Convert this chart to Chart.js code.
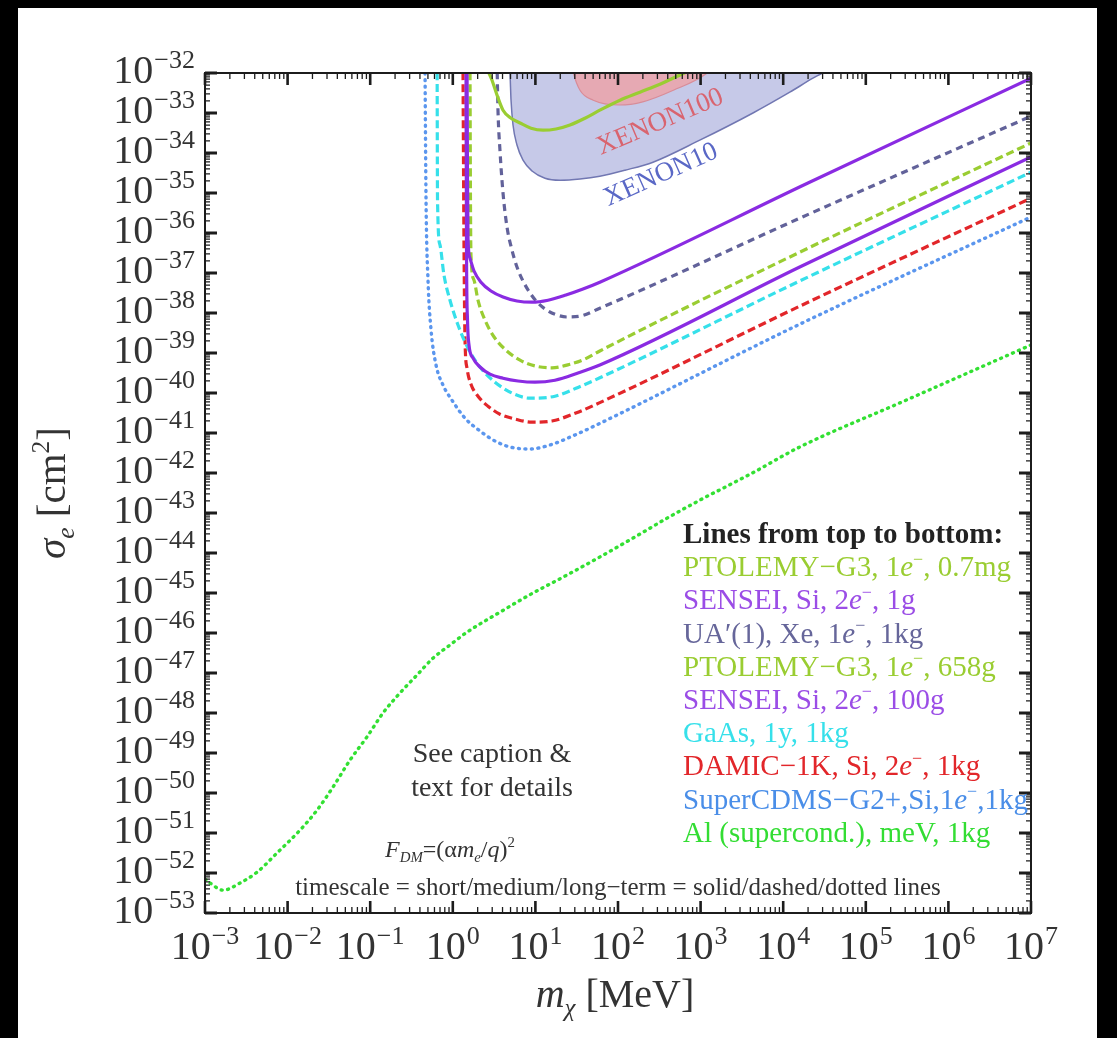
<!DOCTYPE html>
<html>
<head>
<meta charset="utf-8">
<script src="https://cdn.jsdelivr.net/npm/chart.js@4.4.1/dist/chart.umd.min.js"></script>
<style>
  html, body { margin: 0; padding: 0; background: #000; width: 1117px; height: 1038px; overflow: hidden; }
  #wrap { position: absolute; left: 18px; top: 8px; width: 1079px; height: 1030px; background: #fff; }
</style>
</head>
<body>
<div id="wrap"><canvas id="c"></canvas></div>
<script>
// axis decades (log10 of the values)
const massExps  = [-3, -2, -1, 0, 1, 2, 3, 4, 5, 6, 7];
const sigmaExps = [-32, -33, -34, -35, -36, -37, -38, -39, -40, -41, -42,
                   -43, -44, -45, -46, -47, -48, -49, -50, -51, -52, -53];

// curves as log10(m/MeV) and log10(sigma/cm^2)
const ptolemy07M   = [0.39, 0.402, 0.475, 0.535, 0.608, 0.705, 0.814, 0.947, 1.092, 1.25, 1.419, 1.6, 1.78, 2.024, 2.266, 2.508, 2.75, 2.87];
const ptolemy07S   = [-31.68, -31.8, -32.18, -32.55, -32.93, -33.13, -33.25, -33.38, -33.43, -33.4, -33.3, -33.13, -32.93, -32.68, -32.48, -32.28, -32.05, -31.93];

const sensei1gM    = [0.172, 0.178, 0.184, 0.208, 0.257, 0.341, 0.462, 0.608, 0.777, 0.959, 1.153, 1.37, 1.576, 1.78, 4.3, 7.0];
const sensei1gS    = [-31.68, -34.68, -36.13, -36.63, -36.95, -37.23, -37.45, -37.6, -37.7, -37.73, -37.68, -37.55, -37.4, -37.23, -34.75, -32.13];

const uaXeM        = [0.535, 0.547, 0.571, 0.608, 0.656, 0.717, 0.777, 0.85, 0.935, 1.031, 1.14, 1.262, 1.383, 1.54, 1.78, 4.2, 7.0];
const uaXeS        = [-31.68, -32.93, -33.93, -35.0, -35.85, -36.43, -36.85, -37.2, -37.5, -37.75, -37.93, -38.05, -38.1, -38.08, -37.88, -35.63, -33.08];

const ptolemy658M  = [0.208, 0.214, 0.22, 0.257, 0.305, 0.39, 0.5, 0.644, 0.814, 1.007, 1.2, 1.42, 1.6, 1.78, 4.2, 7.0];
const ptolemy658S  = [-31.68, -35.18, -36.55, -37.18, -37.68, -38.18, -38.6, -38.93, -39.18, -39.33, -39.37, -39.28, -39.15, -38.95, -36.48, -33.75];

const sensei100gM  = [0.16, 0.166, 0.178, 0.196, 0.245, 0.329, 0.45, 0.608, 0.79, 0.995, 1.237, 1.516, 1.78, 4.2, 7.0];
const sensei100gS  = [-31.68, -36.43, -38.18, -38.8, -39.13, -39.35, -39.53, -39.63, -39.7, -39.73, -39.68, -39.5, -39.3, -36.85, -34.1];

const gaasM        = [-0.19, -0.185, -0.155, -0.107, -0.034, 0.063, 0.184, 0.329, 0.511, 0.717, 0.935, 1.237, 1.516, 1.78, 4.2, 7.0];
const gaasS        = [-31.68, -35.18, -36.3, -37.05, -37.68, -38.3, -38.88, -39.35, -39.73, -40.0, -40.13, -40.08, -39.86, -39.62, -37.2, -34.48];

const damicM       = [0.123, 0.136, 0.148, 0.172, 0.22, 0.305, 0.426, 0.571, 0.753, 0.959, 1.2, 1.49, 1.78, 4.2, 7.0];
const damicS       = [-31.68, -36.43, -38.68, -39.38, -39.78, -40.08, -40.33, -40.53, -40.65, -40.73, -40.7, -40.5, -40.24, -37.83, -35.13];

const supercdmsM   = [-0.337, -0.324, -0.3, -0.263, -0.203, -0.119, -0.01, 0.148, 0.329, 0.511, 0.692, 0.935, 1.177, 1.479, 1.78, 4.2, 7.0];
const supercdmsS   = [-31.68, -35.18, -37.18, -38.43, -39.3, -39.8, -40.18, -40.63, -40.95, -41.2, -41.35, -41.4, -41.3, -41.05, -40.76, -38.28, -35.6];

const alM          = [-3.06, -2.94, -2.78, -2.576, -2.37, -2.128, -1.85, -1.644, -1.45, -1.245, -1.04, -0.845, -0.64, -0.433, -0.24, -0.034,
                      0.172, 0.571, 0.971, 1.383, 1.78, 2.18, 2.593, 2.99, 3.6, 4.2, 5.41, 7.0];
const alS          = [-52.05, -52.25, -52.43, -52.25, -51.98, -51.5, -50.93, -50.43, -49.85, -49.18, -48.6, -48.0, -47.5, -47.05, -46.63, -46.3,
                      -45.98, -45.48, -45.0, -44.55, -44.1, -43.63, -43.13, -42.68, -42.03, -41.35, -40.25, -38.8];

// excluded regions (filled up to the top of the plot)
const xenon10M     = [0.668, 0.692, 0.705, 0.729, 0.777, 0.85, 0.959, 1.116, 1.298, 1.54, 1.78, 2.085, 2.424, 2.99, 3.634, 4.08, 4.36, 4.54];
const xenon10S     = [-31.68, -32.0, -32.68, -33.3, -33.8, -34.18, -34.45, -34.63, -34.68, -34.65, -34.58, -34.43, -34.23, -33.68, -33.0, -32.48, -32.13, -31.93];
const xenon100M    = [1.44, 1.46, 1.54, 1.7, 2.02, 2.3, 2.67, 3.08, 3.15];
const xenon100S    = [-31.8, -32.0, -32.43, -32.68, -32.8, -32.72, -32.43, -32.0, -31.85];

const seriesLabels = [
  'PTOLEMY−G3, 1e⁻, 0.7mg',
  'SENSEI, Si, 2e⁻, 1g',
  'UA′(1), Xe, 1e⁻, 1kg',
  'PTOLEMY−G3, 1e⁻, 658g',
  'SENSEI, Si, 2e⁻, 100g',
  'GaAs, 1y, 1kg',
  'DAMIC−1K, Si, 2e⁻, 1kg',
  'SuperCDMS−G2+,Si,1e⁻,1kg',
  'Al (supercond.), meV, 1kg',
];

const SERIF = '"Liberation Serif", "Times New Roman", serif';
const SOLID = [], DASHED = [8, 4], DOTTED = [1, 5.5];

const pts = (lm, ls) => lm.map((v, i) => ({ x: 10 ** v, y: 10 ** ls[i] }));

function curve(label, lm, ls, color, dash, textColor) {
  return {
    label, data: pts(lm, ls),
    borderColor: color, borderWidth: dash === DOTTED ? 3.4 : 3.2,
    borderDash: dash, borderCapStyle: dash === DOTTED ? 'round' : 'butt',
    pointRadius: 0, cubicInterpolationMode: 'monotone', fill: false, clip: 0,
    textColor: textColor || color,
  };
}

const datasets = [
  curve(seriesLabels[0], ptolemy07M,  ptolemy07S,  '#9acd32', SOLID),
  curve(seriesLabels[1], sensei1gM,   sensei1gS,   '#8a2be2', SOLID, '#9b4de6'),
  curve(seriesLabels[2], uaXeM,       uaXeS,       '#62629a', [7, 5], '#66669a'),
  curve(seriesLabels[3], ptolemy658M, ptolemy658S, '#9acd32', DASHED),
  curve(seriesLabels[4], sensei100gM, sensei100gS, '#8a2be2', SOLID, '#9b4de6'),
  curve(seriesLabels[5], gaasM,       gaasS,       '#36e0ea', DASHED),
  curve(seriesLabels[6], damicM,      damicS,      '#e2262a', DASHED),
  curve(seriesLabels[7], supercdmsM,  supercdmsS,  '#5b96ee', DOTTED, '#4a8ee8'),
  curve(seriesLabels[8], alM,         alS,         '#33e033', DOTTED, '#33dd33'),
  {
    label: 'XENON100', data: pts(xenon100M, xenon100S), order: 9,
    borderColor: '#d88c98', borderWidth: 1.2, backgroundColor: '#e6a9b3',
    fill: 'end', pointRadius: 0, cubicInterpolationMode: 'monotone', clip: 0,
  },
  {
    label: 'XENON10', data: pts(xenon10M, xenon10S), order: 10,
    borderColor: '#7177b2', borderWidth: 1.5, backgroundColor: '#c6c9e8',
    fill: 'end', pointRadius: 0, cubicInterpolationMode: 'monotone', clip: 0,
  },
];

// draw text made of runs: [text, style] with style containing i (italic), b (bold), ^ (sup), _ (sub)
function drawRuns(ctx, runs, x, y, size, align) {
  const fontFor = st => {
    const small = st.includes('^') || st.includes('_');
    return `${st.includes('i') ? 'italic ' : ''}${st.includes('b') ? 'bold ' : ''}${small ? size * 0.62 : size}px ${SERIF}`;
  };
  const widths = runs.map(([t, st]) => { ctx.font = fontFor(st); return ctx.measureText(t).width; });
  const total = widths.reduce((s, w) => s + w, 0);
  let cx = align === 'center' ? x - total / 2 : align === 'right' ? x - total : x;
  ctx.textAlign = 'left';
  ctx.textBaseline = 'alphabetic';
  runs.forEach(([t, st], i) => {
    ctx.font = fontFor(st);
    const dy = st.includes('^') ? -size * 0.4 : st.includes('_') ? size * 0.22 : 0;
    ctx.fillText(t, cx, y + dy);
    cx += widths[i];
  });
}

function legendRuns(label) {
  const runs = [];
  label.split(/(e⁻)/).forEach(part => {
    if (part === 'e⁻') { runs.push(['e', 'i'], ['−', '^']); }
    else if (part) runs.push([part, '']);
  });
  return runs;
}

function powerLabel(ctx, px, py, exp, align) {
  const sup = exp < 0 ? '−' + (-exp) : String(exp);
  ctx.font = `40px ${SERIF}`;
  const wb = ctx.measureText('10').width + 1;
  ctx.font = `26px ${SERIF}`;
  const ws = ctx.measureText(sup).width;
  const x0 = align === 'right' ? px - wb - ws : px - (wb + ws) / 2;
  ctx.textAlign = 'left';
  ctx.textBaseline = 'alphabetic';
  ctx.font = `40px ${SERIF}`;
  ctx.fillText('10', x0, py);
  ctx.font = `26px ${SERIF}`;
  ctx.fillText(sup, x0 + wb, py - 15);
}

const framePlugin = {
  id: 'frame',
  afterDatasetsDraw(chart) {
    const { ctx, chartArea: a, scales: { x, y } } = chart;
    ctx.save();
    ctx.strokeStyle = '#1c1c1c';
    // x ticks, bottom and top, pointing inward
    massExps.forEach(e => {
      for (let k = 1; k < 10; k++) {
        if (e === massExps[massExps.length - 1] && k > 1) break;
        const px = x.getPixelForValue(k * 10 ** e);
        const len = k === 1 ? 12 : 6;
        ctx.lineWidth = k === 1 ? 2.6 : 1.3;
        ctx.beginPath();
        ctx.moveTo(px, a.bottom); ctx.lineTo(px, a.bottom - len);
        ctx.moveTo(px, a.top);    ctx.lineTo(px, a.top + len);
        ctx.stroke();
      }
    });
    // y ticks, left and right
    sigmaExps.forEach(e => {
      for (let k = 1; k < 10; k++) {
        if (e === sigmaExps[0] && k > 1) break;
        const py = y.getPixelForValue(k * 10 ** e);
        const len = k === 1 ? 12 : 5;
        ctx.lineWidth = k === 1 ? 3 : 1.2;
        ctx.beginPath();
        ctx.moveTo(a.left, py);  ctx.lineTo(a.left + len, py);
        ctx.moveTo(a.right, py); ctx.lineTo(a.right - len, py);
        ctx.stroke();
      }
    });
    ctx.lineWidth = 2;
    ctx.strokeRect(a.left, a.top, a.width, a.height);
    ctx.restore();
  },
  afterDraw(chart) {
    const { ctx, chartArea: a, scales: { x, y } } = chart;
    ctx.save();
    // tick labels
    ctx.fillStyle = '#333';
    sigmaExps.forEach(e => powerLabel(ctx, a.left - 10, y.getPixelForValue(10 ** e) + 10, e, 'right'));
    massExps.forEach(e => powerLabel(ctx, x.getPixelForValue(10 ** e), a.bottom + 46, e, 'center'));

    // axis titles
    ctx.fillStyle = '#333';
    drawRuns(ctx, [['m', 'i'], ['χ', 'i_'], [' [MeV]', '']], (a.left + a.right) / 2 - 3, a.bottom + 94, 40, 'center');
    ctx.save();
    ctx.translate(a.left - 140, (a.top + a.bottom) / 2);
    ctx.rotate(-Math.PI / 2);
    drawRuns(ctx, [['σ', 'i'], ['e', 'i_'], [' [cm', ''], ['2', '^'], [']', '']], 0, 0, 41, 'center');
    ctx.restore();

    // region labels
    const region = (text, color, m, s, ang) => {
      ctx.save();
      ctx.translate(x.getPixelForValue(10 ** m), y.getPixelForValue(10 ** s));
      ctx.rotate(ang * Math.PI / 180);
      ctx.fillStyle = color;
      ctx.font = `27px ${SERIF}`;
      ctx.textAlign = 'center';
      ctx.textBaseline = 'middle';
      ctx.fillText(text, 0, 0);
      ctx.restore();
    };
    region('XENON100', '#d9646f', 2.51, -33.23, -23);
    region('XENON10', '#5a68c6', 2.52, -34.55, -24);

    // legend block
    const lx = a.left + 478;
    ctx.fillStyle = '#222';
    drawRuns(ctx, [['Lines from top to bottom:', 'b']], lx, a.top + 470, 29, 'left');
    chart.data.datasets.forEach((ds, i) => {
      if (!ds.textColor) return;
      ctx.fillStyle = ds.textColor;
      drawRuns(ctx, legendRuns(ds.label), lx, a.top + 470 + 33.2 * (i + 1), 29, 'left');
    });

    // notes
    ctx.fillStyle = '#333';
    drawRuns(ctx, [['See caption &', '']], a.left + 287, a.top + 689, 28, 'center');
    drawRuns(ctx, [['text for details', '']], a.left + 287, a.top + 723, 28, 'center');
    drawRuns(ctx, [['F', 'i'], ['DM', 'i_'], ['=(α', ''], ['m', 'i'], ['e', 'i_'], ['/', ''], ['q', 'i'], [')', ''], ['2', '^']],
      a.left + 245, a.top + 784, 24, 'center');
    drawRuns(ctx, [['timescale = short/medium/long−term = solid/dashed/dotted lines', '']],
      a.left + 413, a.top + 822, 25, 'center');
    ctx.restore();
  },
};

new Chart(document.getElementById('c'), {
  type: 'line',
  data: { datasets },
  options: {
    responsive: true,
    maintainAspectRatio: false,
    animation: false,
    layout: { padding: { left: 187, top: 65, right: 66, bottom: 125 } },
    plugins: { legend: { display: false }, tooltip: { enabled: false } },
    scales: {
      x: { type: 'logarithmic', min: 10 ** massExps[0], max: 10 ** massExps[massExps.length - 1], display: false },
      y: { type: 'logarithmic', min: 10 ** sigmaExps[sigmaExps.length - 1], max: 10 ** sigmaExps[0], display: false },
    },
  },
  plugins: [framePlugin],
});
</script>
</body>
</html>
